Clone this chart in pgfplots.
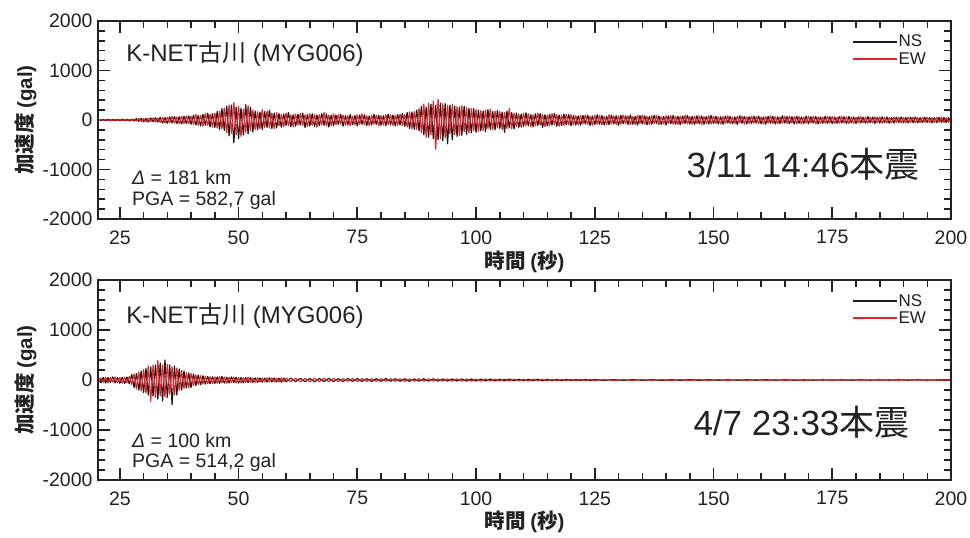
\documentclass[border=0pt]{standalone}
\usepackage{fontspec}
\usepackage{pgfplots}
\usepackage{pgfplotstable}
\pgfplotsset{compat=1.18}
\setmainfont{Liberation Sans}
\newfontfamily\jp{Noto Sans CJK JP}

\definecolor{nscol}{HTML}{1C1C1C}
\definecolor{ewcol}{HTML}{E3262C}
\definecolor{framecol}{HTML}{222222}

% Main shock, 2011-03-11 14:46 (t [s], NS [gal], EW [gal])
\pgfplotstableread{
t ns ew
20 0 0
20.5 8 -6
21 -10 9
21.5 12 -8
22 -9 11
22.5 14 -12
23 -12 10
23.5 10 -14
24 -15 12
24.5 13 -10
25 -11 15
25.5 16 -13
26 -14 12
26.5 12 -16
27 -18 14
27.5 15 -17
28 -20 18
28.5 28 -24
29 -25 30
29.5 32 -28
30 -35 26
30.5 30 -34
31 -38 36
31.5 40 -32
32 -33 42
32.5 45 -40
33 -42 38
33.5 55 -50
34 -60 52
34.5 48 -62
35 -65 58
35.5 62 -55
36 -58 70
36.5 70 -64
37 -72 60
37.5 66 -75
38 -80 72
38.5 75 -68
39 -70 80
39.5 82 -78
40 -85 76
40.5 95 -88
41 -100 110
41.5 90 -105
42 -120 98
42.5 115 -125
43 -105 130
43.5 135 -110
44 -140 120
44.5 128 -145
45 -150 140
45.5 170 -160
46 -190 180
46.5 230 -175
47 -210 240
47.5 280 -260
48 -320 300
48.5 300 -270
49 -460 350
49.5 260 -300
50 -380 280
50.5 240 -330
51 -300 220
51.5 310 -250
52 -280 290
52.5 260 -220
53 -240 200
53.5 180 -190
54 -200 170
54.5 160 -180
55 -190 210
55.5 170 -150
56 -150 180
56.5 200 -160
57 -170 140
57.5 140 -175
58 -160 150
58.5 130 -120
59 -145 110
59.5 120 -135
60 -110 140
60.5 150 -115
61 -130 100
61.5 105 -140
62 -125 120
62.5 115 -100
63 -100 135
63.5 140 -110
64 -150 105
64.5 110 -130
65 -120 125
65.5 125 -105
66 -135 115
66.5 100 -145
67 -115 110
67.5 130 -100
68 -105 150
68.5 120 -120
69 -140 100
69.5 95 -110
70 -110 125
70.5 100 -95
71 -90 110
71.5 115 -85
72 -125 100
72.5 85 -105
73 -100 90
73.5 110 -115
74 -95 80
74.5 90 -100
75 -120 105
75.5 100 -90
76 -85 120
76.5 105 -100
77 -110 85
77.5 80 -110
78 -100 95
78.5 115 -85
79 -90 100
79.5 95 -120
80 -105 90
80.5 85 -100
81 -115 110
81.5 120 -95
82 -95 105
82.5 100 -110
83 -120 95
83.5 110 -105
84 -100 120
84.5 130 -115
85 -125 110
85.5 150 -140
86 -170 160
86.5 160 -180
87 -190 170
87.5 200 -190
88 -220 230
88.5 280 -260
89 -300 320
89.5 260 -350
90 -350 340
90.5 320 -300
91 -380 380
91.5 300 -590
92 -400 420
92.5 340 -380
93 -420 330
93.5 330 -360
94 -480 300
94.5 300 -280
95 -400 320
95.5 280 -300
96 -330 270
96.5 260 -310
97 -310 290
97.5 280 -240
98 -290 250
98.5 240 -260
99 -260 230
99.5 230 -220
100 -250 210
100.5 200 -230
101 -220 190
101.5 180 -210
102 -240 200
102.5 210 -170
103 -190 220
103.5 170 -200
104 -200 180
104.5 190 -160
105 -170 170
105.5 160 -190
106 -250 150
106.5 180 -170
107 -160 230
107.5 150 -180
108 -180 140
108.5 140 -130
109 -150 120
109.5 120 -145
110 -130 135
110.5 145 -110
111 -115 125
111.5 110 -140
112 -140 105
112.5 125 -120
113 -110 140
113.5 130 -105
114 -150 115
114.5 105 -130
115 -120 100
115.5 115 -115
116 -100 130
116.5 135 -100
117 -125 110
117.5 100 -125
118 -110 95
118.5 120 -110
119 -95 115
119.5 110 -100
120 -115 105
120.5 90 -95
121 -100 85
121.5 85 -100
122 -105 90
122.5 95 -80
123 -80 100
123.5 100 -90
124 -110 80
124.5 80 -105
125 -90 95
125.5 105 -85
126 -85 90
126.5 90 -100
127 -100 75
127.5 75 -95
128 -95 105
128.5 100 -80
129 -80 85
129.5 85 -90
130 -105 80
130.5 95 -85
131 -75 100
131.5 80 -75
132 -90 85
132.5 100 -95
133 -85 70
133.5 70 -90
134 -100 90
134.5 90 -70
135 -80 95
135.5 85 -85
136 -95 75
136.5 75 -90
137 -85 85
137.5 95 -75
138 -70 90
138.5 80 -95
139 -90 70
139.5 70 -80
140 -100 85
140.5 85 -70
141 -75 90
141.5 90 -85
142 -85 75
142.5 75 -90
143 -95 80
143.5 80 -75
144 -70 95
144.5 95 -80
145 -80 70
145.5 70 -85
146 -90 80
146.5 85 -70
147 -75 85
147.5 80 -90
148 -85 70
148.5 70 -75
149 -80 85
149.5 90 -80
150 -70 75
150.5 75 -70
151 -80 65
151.5 65 -80
152 -85 70
152.5 80 -65
153 -60 85
153.5 70 -75
154 -75 60
154.5 60 -70
155 -90 75
155.5 85 -60
156 -65 80
156.5 70 -85
157 -80 65
157.5 65 -70
158 -70 75
158.5 75 -65
159 -60 70
159.5 80 -75
160 -75 60
160.5 60 -80
161 -85 70
161.5 70 -60
162 -65 85
162.5 75 -70
163 -80 65
163.5 65 -75
164 -70 60
164.5 85 -65
165 -60 75
165.5 70 -70
166 -75 80
166.5 65 -60
167 -80 65
167.5 75 -75
168 -65 70
168.5 60 -80
169 -70 60
169.5 80 -65
170 -75 75
170.5 65 -60
171 -60 70
171.5 70 -75
172 -80 65
172.5 60 -70
173 -65 60
173.5 75 -65
174 -70 75
174.5 65 -60
175 -75 70
175.5 60 -70
176 -65 60
176.5 70 -65
177 -60 75
177.5 65 -60
178 -75 65
178.5 70 -70
179 -55 60
179.5 60 -65
180 -70 55
180.5 65 -60
181 -60 70
181.5 55 -55
182 -65 60
182.5 70 -65
183 -55 55
183.5 60 -60
184 -70 65
184.5 55 -55
185 -60 60
185.5 65 -65
186 -55 55
186.5 60 -60
187 -65 50
187.5 50 -55
188 -60 60
188.5 55 -50
189 -50 55
189.5 60 -60
190 -55 50
190.5 50 -55
191 -60 60
191.5 55 -50
192 -50 55
192.5 60 -60
193 -55 45
193.5 45 -50
194 -50 55
194.5 55 -45
195 -45 50
195.5 50 -55
196 -55 45
196.5 45 -50
197 -50 50
197.5 55 -45
198 -45 50
198.5 50 -50
199 -50 45
199.5 45 -45
200 -40 40
}\mainshock

% Aftershock, 2011-04-07 23:33
\pgfplotstableread{
t ns ew
20 -40 35
20.5 45 -50
21 -55 40
21.5 50 -45
22 -60 55
22.5 48 -60
23 -45 50
23.5 62 -42
24 -58 60
24.5 50 -55
25 -65 48
25.5 55 -62
26 -70 58
26.5 60 -50
27 -75 70
27.5 110 -90
28 -150 120
28.5 130 -180
29 -200 160
29.5 180 -220
30 -250 210
30.5 230 -260
31 -300 280
31.5 260 -430
32 -320 300
32.5 300 -350
33 -380 390
33.5 340 -320
34 -420 300
34.5 400 -340
35 -350 310
35.5 300 -280
36 -490 260
36.5 280 -300
37 -300 240
37.5 220 -200
38 -200 190
38.5 180 -170
39 -160 150
39.5 140 -160
40 -150 130
40.5 120 -110
41 -110 100
41.5 100 -90
42 -95 85
42.5 85 -80
43 -80 75
43.5 70 -75
44 -75 65
44.5 65 -70
45 -70 60
45.5 60 -65
46 -65 70
46.5 70 -55
47 -60 60
47.5 55 -65
48 -58 55
48.5 62 -50
49 -50 58
49.5 55 -60
50 -60 50
50.5 50 -55
51 -55 45
51.5 48 -50
52 -50 55
52.5 45 -45
53 -48 40
53.5 42 -48
54 -45 45
54.5 40 -42
55 -42 38
55.5 38 -40
56 -40 42
56.5 45 -35
57 -36 40
57.5 40 -38
58 -38 35
58.5 35 -40
59 -40 36
59.5 36 -34
60 -35 38
61 38 -32
62 -32 35
63 35 -36
64 -34 30
65 30 -34
66 -36 32
67 32 -30
68 -30 34
69 34 -32
70 -32 30
71 28 -30
72 -30 28
73 30 -26
74 -26 30
75 28 -28
76 -28 26
77 26 -28
78 -30 25
79 25 -26
80 -26 28
81 28 -24
82 -24 26
83 26 -25
84 -25 24
85 24 -26
86 -26 22
87 22 -24
88 -24 25
89 25 -22
90 -22 24
91 24 -22
92 -22 20
93 20 -22
94 -22 22
95 22 -20
96 -20 22
97 22 -20
98 -20 20
99 20 -20
100 -20 18
101 18 -20
102 -18 20
103 20 -18
104 -18 16
105 16 -18
106 -18 18
107 18 -16
108 -16 16
109 16 -16
110 -16 15
111 15 -16
112 -15 15
113 15 -14
114 -14 15
115 14 -14
116 -14 12
117 12 -14
118 -12 13
119 13 -12
120 -12 12
121 12 -12
122 -12 10
123 10 -11
124 -10 10
125 9 -9
127 -8 8
129 8 -8
131 -8 7
133 7 -8
135 -7 7
137 7 -7
139 -7 6
141 6 -7
143 -6 6
145 6 -6
147 -6 6
149 6 -6
151 -6 5
153 5 -6
155 -5 5
157 5 -5
159 -5 5
161 5 -5
163 -5 5
165 5 -5
167 -5 4
169 4 -5
171 -4 4
173 4 -4
175 -4 4
177 4 -4
179 -4 4
181 4 -4
183 -4 4
185 4 -4
187 -4 4
189 4 -4
191 -4 4
193 4 -4
195 -4 4
197 4 -4
199 -4 4
200 3 -3
}\aftershock

\pgfplotsset{
  quake/.style={
    scale only axis,
    width=853pt,
    xmin=20.4, xmax=200,
    ymin=-2000, ymax=2000,
    xtick={25,50,...,200},
    ytick={-2000,-1000,0,1000,2000},
    minor x tick num=4,
    minor y tick num=4,
    tick align=inside,
    major tick length=12pt,
    minor tick length=7pt,
    major tick style={framecol, line width=1.8pt},
    minor tick style={framecol, line width=1.5pt},
    axis line style={framecol, line width=2.6pt},
    /pgf/number format/assume math mode=true,
    /pgf/number format/1000 sep={},
    tick label style={font=\fontsize{19.5}{21}\selectfont, text=framecol},
    yticklabel style={xshift=-2pt},
    xticklabel style={yshift=-8pt},
    clip mode=individual,
    xlabel={\jp 時間 \rmfamily(\jp 秒\rmfamily)},
    ylabel={\jp 加速度 \rmfamily(gal)},
    label style={font=\bfseries\fontsize{20.5}{22}\selectfont, text=framecol},
    xlabel style={at={(axis description cs:0.5,-0.215)}, anchor=center},
    ylabel style={at={(axis description cs:-0.085,0.5)}, anchor=center},
    legend style={at={(0.972,0.935)}, anchor=north east, draw=none, fill=none,
      inner sep=0pt, font=\fontsize{17}{18}\selectfont,
      row sep=2pt, nodes={inner sep=1pt, text=framecol}},
    legend cell align=left,
    legend image code/.code={\draw[#1, line width=1.6pt] (0pt,0pt) -- (44pt,0pt);},
    % heavy outer frame drawn over the traces
    after end axis/.code={
      \draw[framecol, line width=2.6pt, line cap=rect]
        (rel axis cs:0,0) rectangle (rel axis cs:1,1);
    },
  },
  ns/.style={nscol, line width=1.2pt, line join=round},
  ew/.style={ewcol, line width=1.2pt, line join=round},
}

\begin{document}
\begin{tikzpicture}
\path[use as bounding box] (-98pt,-319pt) rectangle (872pt,219pt);

% upper panel: main shock
\begin{axis}[quake, height=198pt, at={(0pt,0pt)}, anchor=south west]
  \addplot[ns] table[x=t, y=ns] {\mainshock};
  \addlegendentry{NS}
  \addplot[ew] table[x=t, y=ew] {\mainshock};
  \addlegendentry{EW}
  \node[anchor=base west, font=\fontsize{24}{26}\selectfont, text=framecol]
    at (axis description cs:0.029,0.793) {K-NET{\jp 古川} (MYG006)};
  \node[anchor=base west, font=\fontsize{19.5}{21}\selectfont, text=framecol]
    at (axis description cs:0.036,0.172) {\textit{Δ} = 181 km};
  \node[anchor=base west, font=\fontsize{19.5}{21}\selectfont, text=framecol]
    at (axis description cs:0.036,0.066) {PGA = 582,7 gal};
  \node[anchor=base west, font=\fontsize{35}{38}\selectfont, text=framecol]
    at (axis description cs:0.686,0.212) {3/11 14:46{\jp 本震}};
\end{axis}

% lower panel: aftershock
\begin{axis}[quake, height=200pt, at={(0pt,-261pt)}, anchor=south west,
  xlabel style={at={(axis description cs:0.5,-0.21)}}]
  \addplot[ns] table[x=t, y=ns] {\aftershock};
  \addlegendentry{NS}
  \addplot[ew] table[x=t, y=ew] {\aftershock};
  \addlegendentry{EW}
  \node[anchor=base west, font=\fontsize{24}{26}\selectfont, text=framecol]
    at (axis description cs:0.029,0.785) {K-NET{\jp 古川} (MYG006)};
  \node[anchor=base west, font=\fontsize{19.5}{21}\selectfont, text=framecol]
    at (axis description cs:0.036,0.165) {\textit{Δ} = 100 km};
  \node[anchor=base west, font=\fontsize{19.5}{21}\selectfont, text=framecol]
    at (axis description cs:0.036,0.065) {PGA = 514,2 gal};
  \node[anchor=base west, font=\fontsize{35}{38}\selectfont, text=framecol]
    at (axis description cs:0.694,0.225) {4/7 23:33{\jp 本震}};
\end{axis}
\end{tikzpicture}
\end{document}
